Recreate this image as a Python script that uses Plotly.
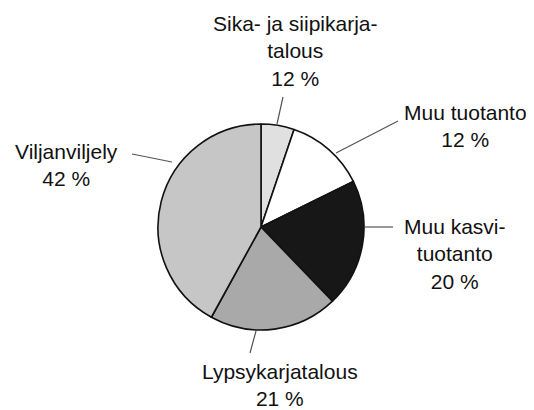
import plotly.graph_objects as go

# Data (slice sizes; printed labels as in the original)
categories = ["Sika- ja siipikarjatalous", "Muu tuotanto", "Muu kasvituotanto",
              "Lypsykarjatalous", "Viljanviljely"]
slice_values = [5.2, 12.5, 20.1, 20.2, 42.0]
label_texts = ["Sika- ja siipikarja-<br>talous<br>12 %",
               "Muu tuotanto<br>12 %",
               "Muu kasvi-<br>tuotanto<br>20 %",
               "Lypsykarjatalous<br>21 %",
               "Viljanviljely<br>42 %"]
colors = ["#e0e0e0", "#ffffff", "#171717", "#a9a9a9", "#c6c6c6"]

# The page body has an 8px default margin; size the figure to fill the rest
OFF = 8
W, H = 534 - OFF, 410 - OFF
cx, cy, R = 261, 227, 103  # pie centre / radius in window pixels (layout)


def px(x):
    return (x - OFF) / W


def py(y):
    return 1 - (y - OFF) / H


fig = go.Figure(go.Pie(
    labels=categories,
    values=slice_values,
    sort=False,
    direction="clockwise",
    rotation=0,
    marker=dict(colors=colors, line=dict(color="#111111", width=1.6)),
    textinfo="none",
    hoverinfo="label+percent",
    showlegend=False,
    domain=dict(x=[px(cx - R), px(cx + R)], y=[py(cy + R), py(cy - R)]),
))

font = dict(family="Liberation Sans, Arial, sans-serif", size=21, color="#111111")

# label positions (pixel centres) and leader lines (pixel endpoints) - layout only
label_pos = [(295, 51), (465, 126), (455, 254), (280, 385), (66, 165)]
leaders = [((283, 97), (277, 124)),
           ((398, 121), (336, 153)),
           ((393, 227), (364, 227)),
           ((250, 353), (256, 331)),
           ((132, 154), (172, 162))]

annotations = []
for txt, (lx, ly) in zip(label_texts, label_pos):
    annotations.append(dict(x=px(lx), y=py(ly), xref="paper", yref="paper",
                            text=txt, showarrow=False, font=font,
                            xanchor="center", yanchor="middle", align="center"))

shapes = []
for (x0, y0), (x1, y1) in leaders:
    shapes.append(dict(type="line", xref="paper", yref="paper",
                       x0=px(x0), y0=py(y0), x1=px(x1), y1=py(y1),
                       line=dict(color="#555555", width=1.2)))

fig.update_layout(
    width=W, height=H,
    margin=dict(l=0, r=0, t=0, b=0),
    paper_bgcolor="white", plot_bgcolor="white",
    annotations=annotations, shapes=shapes,
)

fig.write_html("out.html")
